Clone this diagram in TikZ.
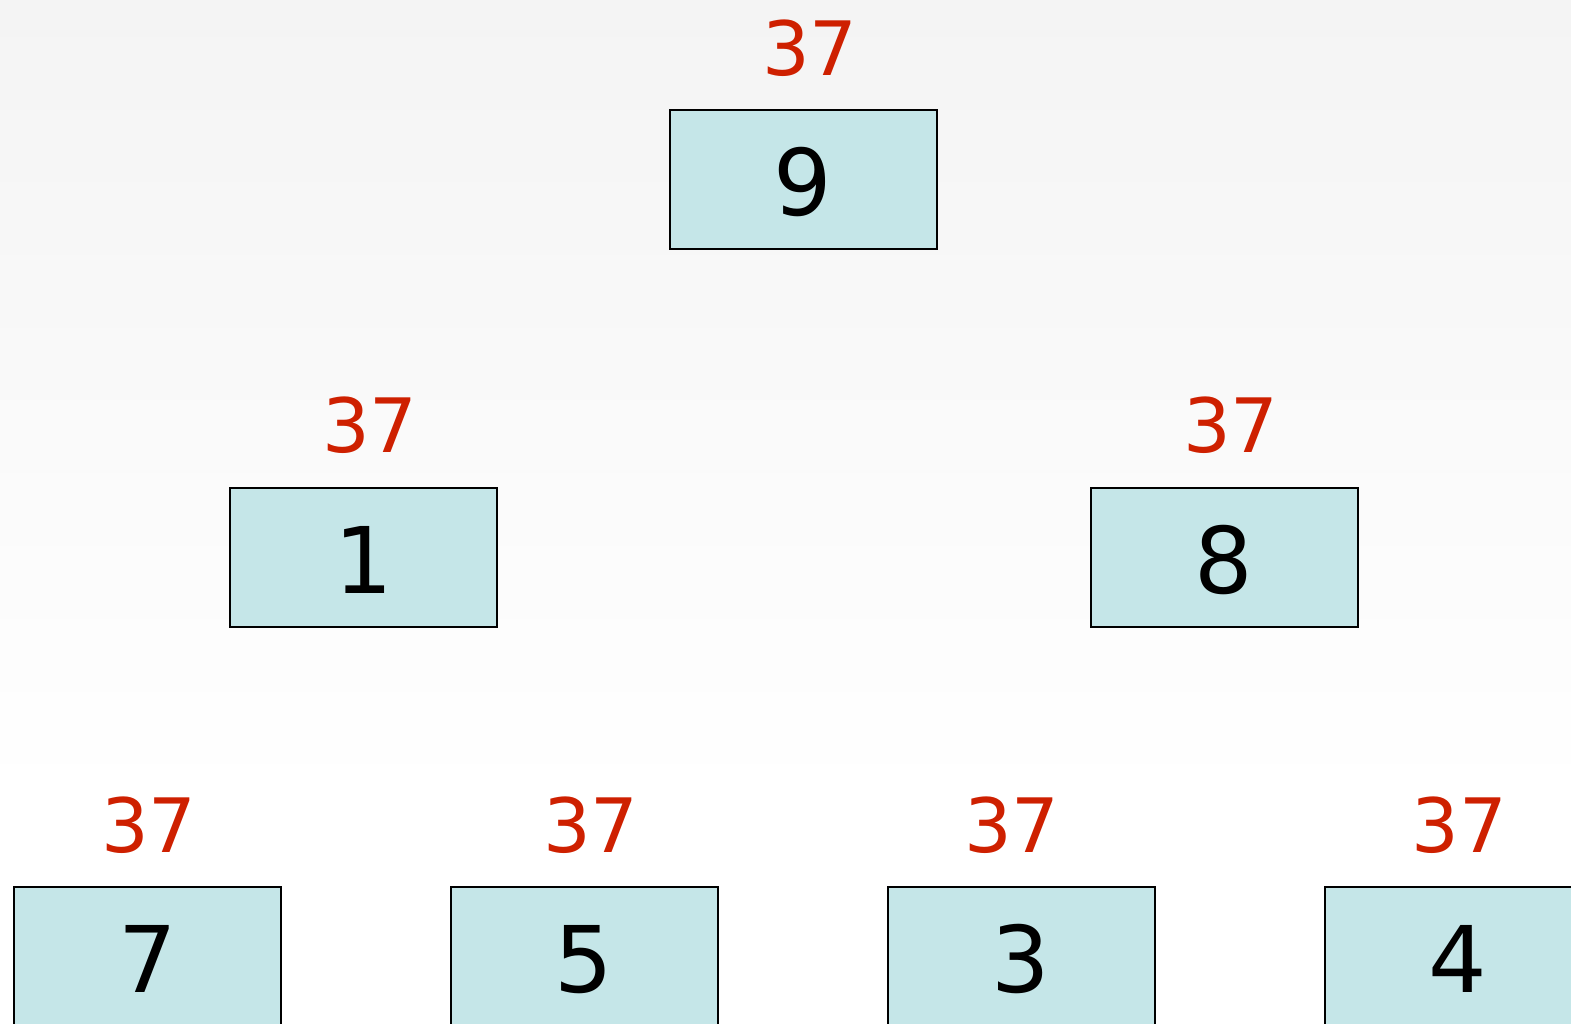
\documentclass[tikz,border=0pt]{standalone}
\usepackage{fontspec}
\setmainfont{DejaVu Sans}
\definecolor{boxfill}{RGB}{197,230,232}
\definecolor{lblred}{RGB}{206,32,0}
\definecolor{bgtop}{RGB}{244,244,244}
\begin{document}
\begin{tikzpicture}[x=1pt,y=-1pt,
  cell/.style={draw=black,line width=2pt,fill=boxfill,minimum width=267pt,minimum height=139pt,inner sep=0pt,text height=72pt,text depth=0pt,font=\fontsize{92}{100}\selectfont},
  lbl/.style={anchor=base,text=lblred,inner sep=0pt,font=\fontsize{75}{80}\selectfont}]
\useasboundingbox (0,0) rectangle (1571,1023);
\clip (0,0) rectangle (1571,1023);
\shade[top color=bgtop,bottom color=white] (0,0) rectangle (1571,800);
\fill[white] (0,800) rectangle (1571,1023);
\node[cell] (n9) at (803,179) {9};
\node[cell] (n1) at (363.5,557.5) {1};
\node[cell] (n8) at (1224,557.5) {8};
\node[cell] (n7) at (147.5,956.5) {7};
\node[cell] (n5) at (584,956.5) {5};
\node[cell] (n3) at (1021,956.5) {3};
\node[cell] (n4) at (1458,956.5) {4};
\node[lbl] (l9) at (810,75) {37};
\node[lbl] (l1) at (370,452) {37};
\node[lbl] (l8) at (1231,452) {37};
\node[lbl] (l7) at (149,852) {37};
\node[lbl] (l5) at (591,852) {37};
\node[lbl] (l3) at (1012,852) {37};
\node[lbl] (l4) at (1459,852) {37};
\end{tikzpicture}
\end{document}
